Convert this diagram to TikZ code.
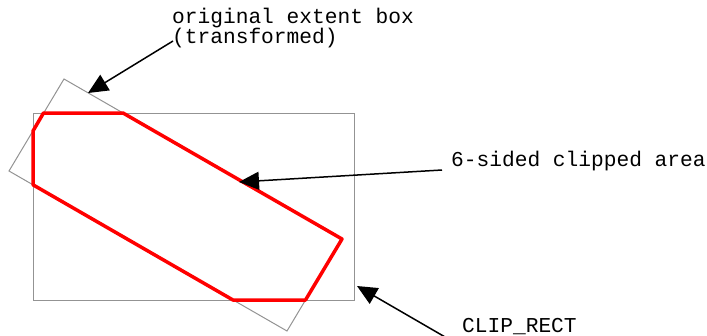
\documentclass[tikz,border=0pt]{standalone}
\usepackage{fontspec}
\setmonofont{Liberation Mono}
\usetikzlibrary{arrows.meta}
\begin{document}
\begin{tikzpicture}[x=1pt,y=-1pt,
  lbl/.style={font=\ttfamily\fontsize{21.2}{19}\selectfont, inner sep=0pt, anchor=base west},
  callout/.style={line width=1.5pt, -{Triangle[length=20pt,width=18pt]}},
  thinbox/.style={draw=gray!85, line width=1pt},
  clipped/.style={draw=red, line width=3.5pt, line join=round}]
\useasboundingbox (0,0) rectangle (707,335);
% clip rectangle
\draw[thinbox] (33,113) rectangle (354,300);
% rotated original extent box
\coordinate (A) at (64,79);
\coordinate (B) at (9,171);
\coordinate (C) at (287,331);
\coordinate (D) at (342,239);
\draw[thinbox] (A) -- (B) -- (C) -- (D) -- cycle;
% clipped area
\draw[clipped] (43.5,113) -- (123,113) -- (D) -- (305.5,300) -- (233,300) -- (33,184.8) -- (33,131) -- cycle;
% labels
\node[lbl] (lblA1) at (172,23) {original extent box};
\node[lbl] (lblA2) at (172,43) {(transformed)};
\node[lbl] (lblB) at (451,166) {6-sided clipped area};
\node[lbl] (lblC) at (462,332) {CLIP\_RECT};
% callout tips
\coordinate (tipA) at (88,93);
\coordinate (tipB) at (239,182);
\coordinate (tipC) at (357,286);
\draw[callout] ([xshift=1pt,yshift=2pt]lblA2.base west) -- (tipA);
\draw[callout] ([xshift=-9pt,yshift=-4pt]lblB.base west) -- (tipB);
\draw[callout] ([xshift=-10pt,yshift=-9pt]lblC.base west) -- (tipC);
\end{tikzpicture}
\end{document}
